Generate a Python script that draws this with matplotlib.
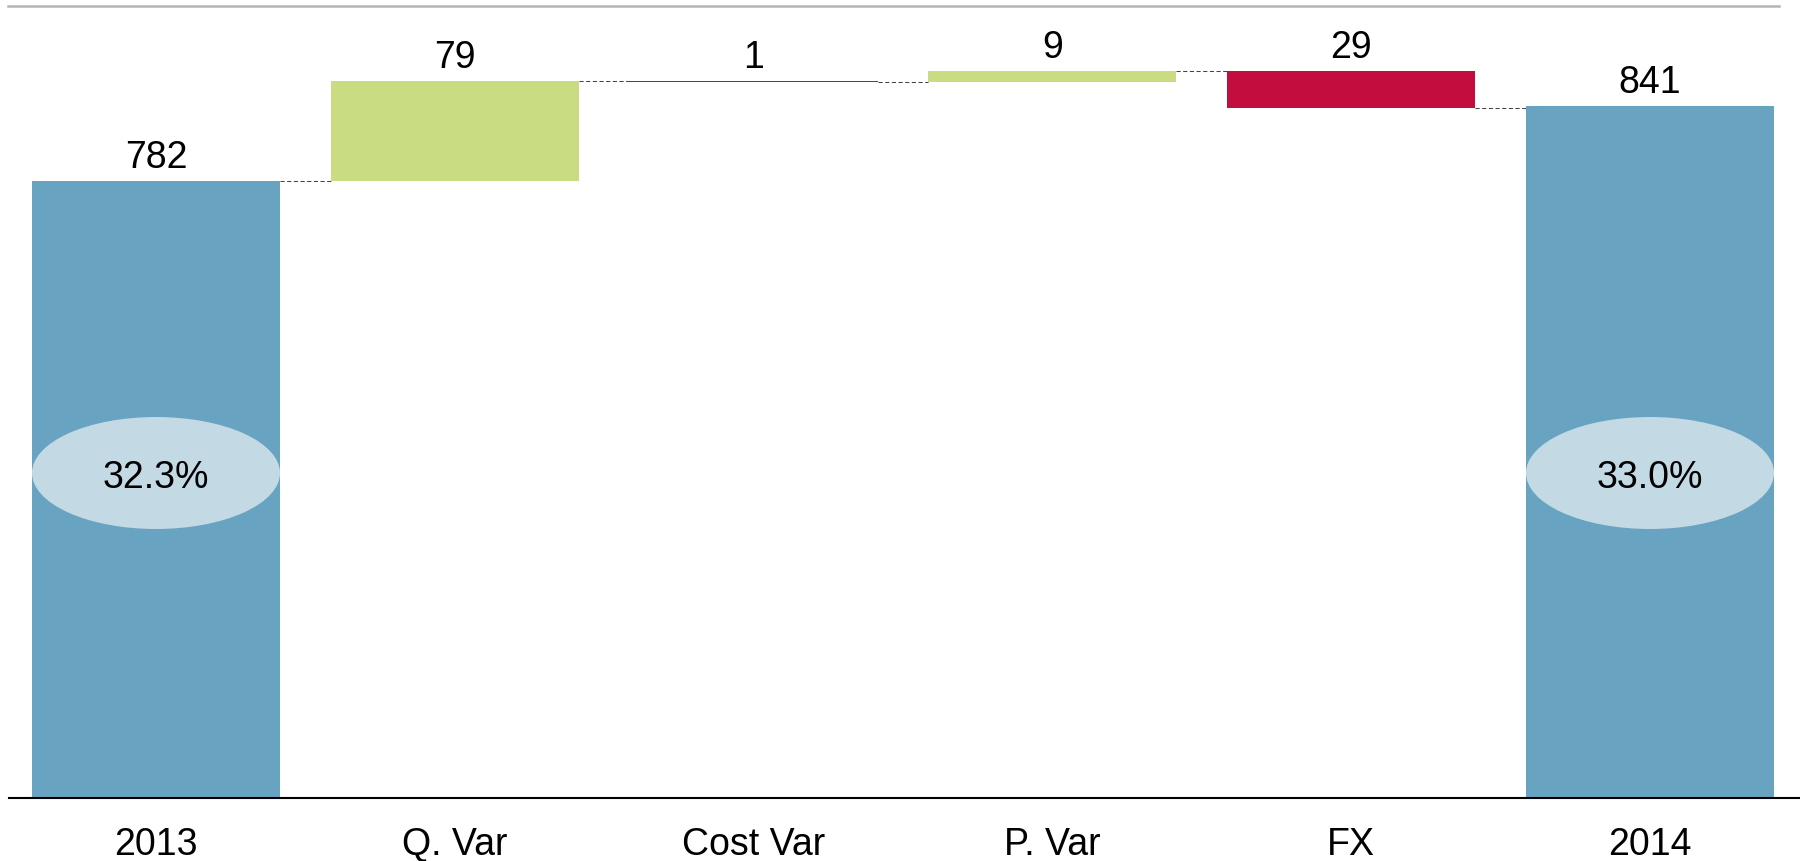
import matplotlib
matplotlib.use("Agg")
import matplotlib.pyplot as plt
from matplotlib.patches import Ellipse
from matplotlib.lines import Line2D
from matplotlib.transforms import blended_transform_factory

# ---- data ----
categories = ["2013", "Q. Var", "Cost Var", "P. Var", "FX", "2014"]
start_total = 782
deltas = [79, -1, 9, -29]
end_total = 841
margins = ["32.3%", "33.0%"]

# ---- style ----
TOTAL_COLOR = "#68a3c1"
UP_COLOR = "#c9dc82"
DOWN_COLOR = "#c30d3e"
BUBBLE_COLOR = "#c3d9e4"
CONNECTOR_COLOR = "#444444"
FONT_SIZE = 27
BAR_WIDTH = 0.83

plt.rcParams["font.family"] = ["Liberation Sans", "DejaVu Sans"]
plt.rcParams["lines.scale_dashes"] = False

DPI = 100
W, H = 1800, 862
fig = plt.figure(figsize=(W / DPI, H / DPI), dpi=DPI)
ax = fig.add_axes([9 / W, (H - 799) / H, (W - 9) / W, (799 - 7) / H])

# ---- build the waterfall segments ----
bottoms, heights, colors, label_tops, label_texts, levels = [], [], [], [], [], []

bottoms.append(0)
heights.append(start_total)
colors.append(TOTAL_COLOR)
label_tops.append(start_total)
label_texts.append(str(start_total))
level = start_total
levels.append(level)

for d in deltas:
    new_level = level + d
    bottoms.append(min(level, new_level))
    heights.append(abs(d))
    colors.append(UP_COLOR if d > 0 else DOWN_COLOR)
    label_tops.append(max(level, new_level))
    label_texts.append(str(abs(d)))
    level = new_level
    levels.append(level)

bottoms.append(0)
heights.append(end_total)
colors.append(TOTAL_COLOR)
label_tops.append(end_total)
label_texts.append(str(end_total))

x = list(range(len(categories)))
ax.bar(x, heights, bottom=bottoms, width=BAR_WIDTH, color=colors, linewidth=0, zorder=2)

# dashed connectors between consecutive bars
for i, lvl in enumerate(levels):
    ax.plot([x[i] + BAR_WIDTH / 2, x[i + 1] - BAR_WIDTH / 2], [lvl, lvl],
            color=CONNECTOR_COLOR, lw=0.75, linestyle=(0, (3.0, 1.8)), zorder=1)

# value labels above each bar
for xi, top, txt in zip(x, label_tops, label_texts):
    ax.annotate(txt, (xi, top), xytext=(0, 10), textcoords="offset points",
                ha="center", va="baseline", fontsize=FONT_SIZE, color="black")

# margin bubbles on the total bars
blend = blended_transform_factory(ax.transData, ax.transAxes)
bubble_y = (799 - 474) / (799 - 7)
bubble_h = 112 / (799 - 7)
for xi, txt in zip([x[0], x[-1]], margins):
    ax.add_patch(Ellipse((xi, bubble_y), BAR_WIDTH, bubble_h, transform=blend,
                         facecolor=BUBBLE_COLOR, edgecolor="none", zorder=3))
    ax.annotate(txt, (xi, bubble_y), xycoords=blend, xytext=(0, -10),
                textcoords="offset points", ha="center", va="baseline",
                fontsize=FONT_SIZE, color="black", zorder=4)

# ---- axes ----
ax.set_xlim(-0.492, 5.502)
ax.set_ylim(294.6, 920.3)
ax.set_xticks(x)
ax.set_xticklabels(categories, fontsize=FONT_SIZE)
ax.tick_params(axis="x", length=0, pad=20.5)
ax.set_yticks([])
for side in ("left", "right", "top"):
    ax.spines[side].set_visible(False)
ax.spines["bottom"].set_color("black")
ax.spines["bottom"].set_linewidth(1.5)
ax.spines["bottom"].set_zorder(5)

# thin grey rule across the top
fig.add_artist(Line2D([8 / W, 1779 / W], [(H - 7) / H] * 2, transform=fig.transFigure,
                      color="#b8b4b4", lw=1.8))

fig.savefig("out.png", dpi=DPI)
